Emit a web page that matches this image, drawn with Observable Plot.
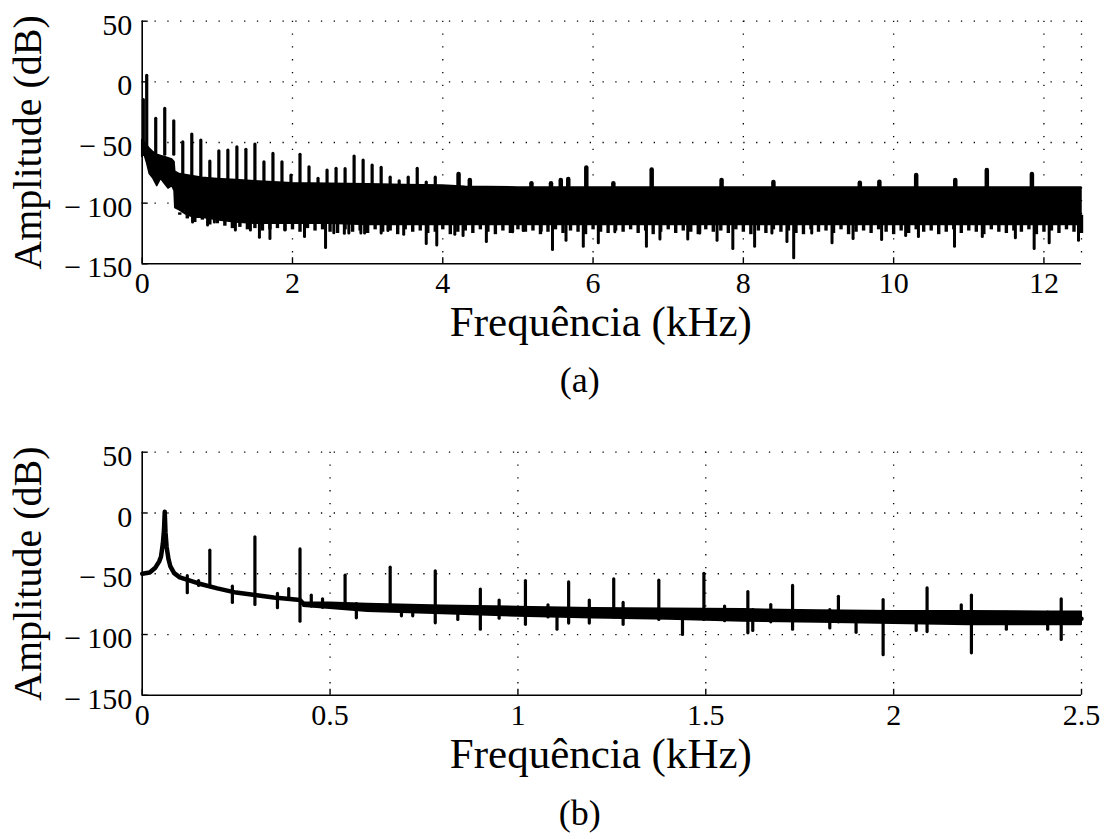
<!DOCTYPE html>
<html><head><meta charset="utf-8">
<script src="https://cdn.jsdelivr.net/npm/d3@7"></script>
<script src="https://cdn.jsdelivr.net/npm/@observablehq/plot@0.6"></script>
<style>
html,body{margin:0;padding:0;background:#fff;}
#chart svg{display:block;}
#chart svg, #chart svg text{font-family:'Liberation Serif','Times New Roman',Times,serif !important;}
</style>
</head><body><div id="chart"></div>
<script>
// ---------- axis ticks ----------
const yTicks = [-150, -100, -50, 0, 50];
const xTicksA = [0, 2, 4, 6, 8, 10, 12];
const xTicksB = [0, 0.5, 1, 1.5, 2, 2.5];
const xLabel = "Frequência (kHz)";
const yLabel = "Amplitude (dB)";

// ---------- panel (a): 0 – 12.5 kHz ----------
// noise-floor band (upper / lower envelope), kHz and dB
const aCoreF  = [0, 0.03, 0.06, 0.1, 0.15, 0.2, 0.25, 0.3, 0.35, 0.4, 0.43, 0.44, 0.5, 0.6, 0.7, 0.8, 1.0, 1.25, 1.5, 2.0, 2.5, 3.0, 3.5, 4.0, 4.3, 5, 6, 7, 8, 9, 10, 11, 12, 12.5];
const aCoreHi = [-48, -50, -52, -55, -58, -60, -61, -62, -63, -64, -66, -74, -76, -77, -78, -79, -80, -81, -82, -83.5, -84, -84.5, -85, -85.5, -86.5, -87, -87, -87, -87, -87, -87, -87, -87, -87];
const aCoreLo = [-62, -60, -66, -76, -80, -86, -80, -84, -88, -86, -90, -104, -106, -110, -112, -112, -114, -116, -117, -117, -117, -118, -118, -118, -118, -118, -118, -118, -118, -118, -118, -118, -118, -118];
// ragged lower fringe of the noise floor, every 0.1 kHz from 0.5 kHz
const aFringeStart = 0.5, aFringeStep = 0.1;
const aFringe = [-108, -113, -116, -114, -118, -117, -119, -121, -120, -122, -121, -123, -122, -121, -123, -122, -124, -121, -123, -122,
  -124, -125, -122, -124, -123, -125, -122, -124, -123, -126, -122, -124, -123, -125, -124, -122, -126, -124, -123, -125,
  -122, -124, -126, -123, -125, -122, -124, -123, -126, -124, -122, -125, -123, -124, -126, -122, -124, -125, -123, -124,
  -122, -125, -123, -126, -124, -122, -125, -123, -124, -126, -122, -124, -123, -125, -122, -124, -126, -123, -125, -122,
  -124, -123, -125, -126, -122, -124, -123, -125, -122, -126, -124, -123, -125, -122, -124, -126, -123, -125, -122, -124,
  -123, -126, -124, -122, -125, -123, -124, -126, -122, -124, -125, -123, -124, -122, -126, -124, -123, -125, -122, -124, -125];
// deep dips [kHz, dB]
const aDips = [[0.67,-116],[0.87,-118.5],[0.96,-116],[1.24,-122.6],[1.44,-122.6],[1.56,-128.6],[1.70,-129.5],[1.90,-122.6],[2.16,-128],
  [2.44,-136.9],[2.55,-124.8],[2.69,-125.3],[2.75,-125],[2.91,-125],[2.96,-125],[3.18,-125],[3.27,-123],[3.48,-126],[3.78,-133.6],
  [3.92,-135],[4.16,-126],[4.27,-127],[4.58,-132],[4.93,-124],[5.07,-123],[5.31,-123],[5.46,-138.6],[5.64,-131],[5.87,-136],
  [6.07,-133],[6.29,-124],[6.71,-136],[6.89,-130],[7.26,-130],[7.42,-125],[7.65,-131],[7.86,-137.8],[8.15,-136],[8.38,-125],
  [8.58,-132],[8.67,-145.5],[8.91,-125],[9.18,-133],[9.46,-129.5],[9.84,-130.3],[10.16,-127],[10.33,-128],[10.81,-136],
  [11.18,-128],[11.62,-129],[11.87,-137.8],[12.07,-133],[12.46,-131]];
// harmonic peaks [kHz, dB]
const aPeaks = [[0.015,-15],[0.06,5],[0.18,-30.5],[0.30,-22.3],[0.42,-32.5],[0.54,-49.8],[0.66,-43.4],[0.78,-48.4],[0.90,-65.7],
  [1.02,-57.2],[1.14,-56.6],[1.26,-53.9],[1.38,-56],[1.50,-51.7],[1.62,-66.3],[1.74,-59.4],[1.86,-66.3],[1.98,-77.2],[2.10,-60.2],
  [2.22,-70.4],[2.34,-80],[2.46,-73.1],[2.58,-71.7],[2.70,-72],[2.82,-61.6],[2.94,-64.9],[3.06,-69],[3.18,-71],[3.30,-79],
  [3.42,-82],[3.54,-79],[3.66,-71.7],[3.78,-83],[3.90,-79]];
// rounded bumps on the floor [kHz, dB]
const aBumps = [[4.21,-76.4],[4.36,-81.4],[5.18,-84],[5.44,-84],[5.57,-81.4],[5.67,-80.6],[5.91,-71],[6.27,-84],[6.78,-72.6],
  [7.71,-81.4],[8.4,-83],[9.55,-83.6],[9.81,-82.8],[10.3,-77.3],[10.82,-81.4],[11.24,-73.1],[11.84,-76.4]];

// ---------- panel (b): 0 – 2.5 kHz ----------
const bBaseF = [0, 0.02, 0.035, 0.045, 0.05, 0.055, 0.058, 0.06, 0.062, 0.065, 0.07, 0.075, 0.085, 0.1, 0.15, 0.2, 0.25, 0.3, 0.35, 0.4, 0.42, 0.43, 0.45, 0.5, 0.6, 0.7, 0.8, 0.9, 1.0, 1.2, 1.4, 1.6, 1.8, 2.0, 2.2, 2.4, 2.5];
const bBase  = [-50, -49, -45, -40, -36, -25, -14, 1, -16, -28, -38, -44, -49.5, -53, -58, -62, -65.5, -67.5, -69.5, -71, -71.5, -75, -75.5, -75.5, -77, -78, -79, -80, -81, -82, -83, -84, -85, -85.5, -86, -86.5, -87];
const bNoiseF  = [0.43, 0.5, 0.6, 0.8, 1.0, 1.2, 1.4, 1.6, 1.8, 2.0, 2.2, 2.4, 2.5];
const bNoiseHi = [-74, -74, -75, -76.5, -77.5, -78.5, -79, -79.5, -80.5, -81, -81, -81.5, -81.5];
const bNoiseLo = [-77, -78.5, -81, -83, -85, -86.5, -87.5, -89, -90, -91, -92, -92, -92];
// spikes [kHz, top dB, bottom dB]
const bSpikes = [[0.12,-52,-66],[0.15,-56,-60],[0.18,-31,-61],[0.24,-60.6,-74],[0.30,-20,-75.7],[0.36,-66.6,-78.4],[0.39,-62.6,-71],
  [0.42,-30,-89.4],[0.45,-68,-77],[0.48,-71,-78],[0.54,-51.6,-78],[0.57,-75,-86.7],[0.66,-45,-79],[0.69,-77,-85],[0.72,-77,-85],
  [0.78,-48,-90.8],[0.84,-79,-88],[0.90,-63,-96],[0.95,-72,-87],[1.02,-56,-92],[1.08,-76,-86],[1.104,-80,-96],[1.135,-57,-91],
  [1.19,-72,-91],[1.255,-54.6,-86],[1.28,-74,-92],[1.375,-55.7,-88],[1.438,-80,-100.4],[1.495,-50,-88],[1.55,-77,-89],
  [1.612,-65,-99],[1.625,-80,-97],[1.673,-75.7,-90],[1.731,-60,-96],[1.83,-80,-95],[1.853,-69,-90],[1.90,-82,-98.6],
  [1.972,-71.6,-117],[2.06,-82,-97],[2.089,-62,-98],[2.18,-76,-90],[2.207,-68,-115.5],[2.30,-82,-96],[2.41,-82,-96],[2.446,-71,-104.5]];

// ---------- helpers ----------
const FONT = "Liberation Serif";
const TICK_FS = 30;
const gridStyle = {stroke: "#000", strokeOpacity: 1, strokeWidth: 1.3, strokeDasharray: "1.3,11.5"};
const fmtY = d => d < 0 ? "\u2212\u2009" + Math.abs(d) : String(d);

function frameMarks(xDomain, xTicks) {
  const gx = [...xTicks.slice(1)];
  if (gx[gx.length - 1] !== xDomain[1]) gx.push(xDomain[1]);
  return [
    Plot.gridX(gx, gridStyle),
    Plot.gridY(yTicks.slice(1), gridStyle)
  ];
}
function axisMarks(xDomain, xTicks, caption, capDy) {
  return [
    Plot.ruleX([xDomain[0]], {stroke: "#000", strokeWidth: 1.6}),
    Plot.ruleY([-150], {stroke: "#000", strokeWidth: 1.6}),
    Plot.axisX(xTicks, {tickSize: -6, tickFormat: () => "", strokeWidth: 1.4, label: null}),
    Plot.axisY(yTicks, {tickSize: -6, tickFormat: () => "", strokeWidth: 1.4, label: null}),
    Plot.axisX(xTicks, {tickSize: 0, tickPadding: 8, tickFormat: d => String(d), fontSize: TICK_FS, fontFamily: FONT, label: null}),
    Plot.axisY(yTicks, {tickSize: 0, tickPadding: 10, dy: 4, tickFormat: fmtY, fontSize: TICK_FS, fontFamily: FONT, label: null}),
    Plot.text([xLabel], {frameAnchor: "bottom", dy: 42, dx: -11, lineAnchor: "top", textAnchor: "middle", fontSize: 43, fontFamily: FONT}),
    Plot.text([yLabel], {frameAnchor: "left", rotate: -90, dx: -130, lineAnchor: "top", textAnchor: "middle", fontSize: 40, fontFamily: FONT}),
    Plot.text([caption], {frameAnchor: "bottom", dy: capDy, dx: -32, lineAnchor: "top", textAnchor: "middle", fontSize: 36, fontFamily: FONT})
  ];
}

// ---------- panel (a) ----------
const aCore = aCoreF.map((f, i) => ({f, hi: aCoreHi[i], lo: aCoreLo[i]}));
const aFringeT = aFringe.map((v, i) => ({f: +(aFringeStart + i * aFringeStep).toFixed(2), v}));

const plotA = Plot.plot({
  width: 1106, height: 431, marginLeft: 141.7, marginRight: 25, marginTop: 20.7, marginBottom: 431 - 263.3,
  x: {domain: [0, 12.5]}, y: {domain: [-150, 50]},
  style: {fontSize: "30px", color: "#000", background: "#fff"},
  marks: [
    ...frameMarks([0, 12.5], xTicksA),
    Plot.areaY(aCore, {x: "f", y1: "lo", y2: "hi", fill: "#000", stroke: "#000", strokeWidth: 1.5}),
    Plot.ruleX(aFringeT, {x: "f", y1: -110, y2: "v", stroke: "#000", strokeWidth: 3.4}),
    Plot.ruleX(aDips, {x: d => d[0], y1: -110, y2: d => d[1], stroke: "#000", strokeWidth: 3, strokeLinecap: "round"}),
    Plot.ruleX(aPeaks, {x: d => d[0], y1: d => d[0] < 0.44 ? -60 : -95, y2: d => d[1], stroke: "#000", strokeWidth: 3.2, strokeLinecap: "round"}),
    Plot.ruleX(aBumps, {x: d => d[0], y1: -95, y2: d => d[1], stroke: "#000", strokeWidth: 4.5, strokeLinecap: "round"}),
    ...axisMarks([0, 12.5], xTicksA, "(a)", 103)
  ]
});

// ---------- panel (b) ----------
const bBaseT = bBaseF.map((f, i) => ({f, v: bBase[i]}));
const bNoise = bNoiseF.map((f, i) => ({f, hi: bNoiseHi[i], lo: bNoiseLo[i]}));

const plotB = Plot.plot({
  width: 1106, height: 408, marginLeft: 141.7, marginRight: 25, marginTop: 20.7, marginBottom: 408 - 263.8,
  x: {domain: [0, 2.5]}, y: {domain: [-150, 50]},
  style: {fontSize: "30px", color: "#000", background: "#fff"},
  marks: [
    ...frameMarks([0, 2.5], xTicksB),
    Plot.areaY(bNoise, {x: "f", y1: "lo", y2: "hi", fill: "#000", stroke: "#000", strokeWidth: 2}),
    Plot.line(bBaseT, {x: "f", y: "v", stroke: "#000", strokeWidth: 4.5, strokeLinejoin: "round"}),
    Plot.ruleX(bSpikes, {x: d => d[0], y1: d => d[1], y2: d => d[2], stroke: "#000", strokeWidth: 3.2, strokeLinecap: "round"}),
    ...axisMarks([0, 2.5], xTicksB, "(b)", 104)
  ]
});

const root = document.getElementById("chart");
root.appendChild(plotA);
root.appendChild(plotB);
</script></body></html>
